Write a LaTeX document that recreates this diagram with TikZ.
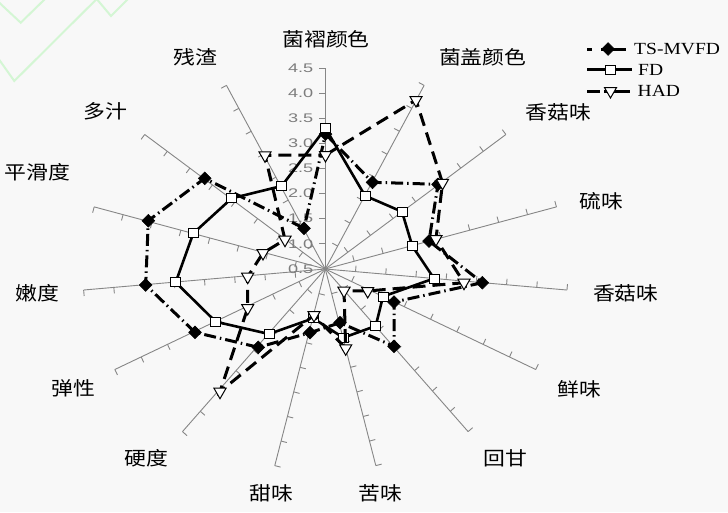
\documentclass[tikz,border=0pt]{standalone}
\usepackage{graphicx}
\usepackage{fontspec}
\setmainfont{Liberation Serif}
\newfontfamily\cjkfont{Noto Sans CJK SC}
\newfontfamily\numfont{Liberation Sans}
\usetikzlibrary{shapes.geometric}
\definecolor{bgc}{RGB}{248,248,248}
\definecolor{axisgray}{RGB}{134,134,134}
\definecolor{numgray}{RGB}{125,125,125}
\definecolor{zig}{RGB}{212,246,212}
\newcommand{\cjklab}[1]{\scalebox{1.15}[1]{\cjkfont\fontsize{19}{19}\selectfont #1}}
\newcommand{\numlab}[1]{\scalebox{1.45}[1]{\numfont\fontsize{12.5}{12.5}\selectfont #1}}
\newcommand{\leglab}[1]{\scalebox{1.15}[1]{\fontsize{17}{17}\selectfont #1}}
\tikzset{
  axisline/.style={draw=axisgray, line width=0.9pt},
  lab/.style={inner sep=0pt},
  numnode/.style={inner sep=0pt, anchor=east, text=numgray},
  tsline/.style={black, line width=3pt, dash pattern=on 12pt off 4pt on 1.5pt off 4pt},
  fdline/.style={black, line width=2.6pt},
  hadline/.style={black, line width=3pt, dash pattern=on 13pt off 7pt},
  tsmark/.style={diamond, fill=black, draw=black, line width=0.5pt, minimum width=13pt, minimum height=13pt, inner sep=0pt},
  fdmark/.style={rectangle, fill=white, draw=black, line width=1pt, minimum width=10pt, minimum height=9pt, inner sep=0pt},
  hadmark/.style={regular polygon, regular polygon sides=3, shape border rotate=180, fill=white, draw=black, line width=1pt, minimum size=14pt, inner sep=0pt},
  legtext/.style={inner sep=0pt, anchor=west}
}
\begin{document}
\begin{tikzpicture}[x=1pt,y=-1pt]
\useasboundingbox (0,0) rectangle (728,512);
\clip (0,0) rectangle (728,512);
\fill[bgc] (0,0) rectangle (728,512);
% decorative zigzag
\draw[zig, line width=2pt] (-2,1.5) -- (20.7,22.7) -- (45,-1);
\draw[zig, line width=2pt] (-2,58) -- (14.3,81) -- (96.7,-1);
\draw[zig, line width=2pt] (96.7,-1) -- (111,16) -- (128,-1);
% axes
\coordinate (ctr) at (325.3,269);
\foreach \k in {0,...,14}{
  \pgfmathsetmacro\ex{243*sin(24*\k)}
  \pgfmathsetmacro\ey{-201*cos(24*\k)}
  \pgfmathsetmacro\axlen{100*sqrt((\ex/100)^2+(\ey/100)^2)}
  \pgfmathsetmacro\tx{6*\ey/\axlen}
  \pgfmathsetmacro\ty{-6*\ex/\axlen}
  \draw[axisline] (ctr) -- ++(\ex,\ey) coordinate (e\k);
  \foreach \j in {1,...,8}{
    \draw[axisline] (325.3+\j*\ex/8, 269+\j*\ey/8) -- ++(\tx,\ty);
  }
}
% value labels
\foreach \j/\v in {0/0.5,1/1.0,2/1.5,3/2.0,4/2.5,5/3.0,6/3.5,7/4.0,8/4.5}{
  \node[numnode] (n\j) at (313.5, 269-\j*201/8) {\numlab{\v}};
}
% axis labels
\node[lab] (L1) at (326,39) {\cjklab{菌褶颜色}};
\node[lab] (L2) at (482.7,57.5) {\cjklab{菌盖颜色}};
\node[lab] (L3) at (558.3,112) {\cjklab{香菇味}};
\node[lab] (L4) at (601.7,201) {\cjklab{硫味}};
\node[lab] (L5) at (625.8,293.5) {\cjklab{香菇味}};
\node[lab] (L6) at (579.5,389) {\cjklab{鲜味}};
\node[lab] (L7) at (505,458) {\cjklab{回甘}};
\node[lab] (L8) at (380,493) {\cjklab{苦味}};
\node[lab] (L9) at (271,493) {\cjklab{甜味}};
\node[lab] (L10) at (146,458) {\cjklab{硬度}};
\node[lab] (L11) at (73,388) {\cjklab{弹性}};
\node[lab] (L12) at (37.5,293) {\cjklab{嫩度}};
\node[lab] (L13) at (37.5,172) {\cjklab{平滑度}};
\node[lab] (L14) at (105,111) {\cjklab{多汁}};
\node[lab] (L15) at (195,57.5) {\cjklab{残渣}};
% TS-MVFD
\coordinate (t1) at (325.5,134);
\coordinate (t2) at (372.5,182.3);
\coordinate (t3) at (438,184.3);
\coordinate (t4) at (429,241);
\coordinate (t5) at (482.3,282.7);
\coordinate (t6) at (394,302);
\coordinate (t7) at (394,346.3);
\coordinate (t8) at (340,322.7);
\coordinate (t9) at (310,332.7);
\coordinate (t10) at (258.3,347.3);
\coordinate (t11) at (195,332.3);
\coordinate (t12) at (145.7,285);
\coordinate (t13) at (148.3,220.7);
\coordinate (t14) at (204.7,178.3);
\coordinate (t15) at (304,228.3);
% FD
\coordinate (f1) at (325.5,128.3);
\coordinate (f2) at (365,195.7);
\coordinate (f3) at (402,211.7);
\coordinate (f4) at (412.3,246);
\coordinate (f5) at (434,278.5);
\coordinate (f6) at (383,296.5);
\coordinate (f7) at (375.7,326);
\coordinate (f8) at (343.3,337.7);
\coordinate (f9) at (313.3,318.3);
\coordinate (f10) at (269,334);
\coordinate (f11) at (215.7,321.7);
\coordinate (f12) at (175.7,282.3);
\coordinate (f13) at (193.3,233.3);
\coordinate (f14) at (231.7,198.3);
\coordinate (f15) at (281.7,186);
% HAD
\coordinate (h1) at (325.5,155);
\coordinate (h2) at (416,100);
\coordinate (h3) at (442.5,182.8);
\coordinate (h4) at (436,239);
\coordinate (h5) at (464,282.7);
\coordinate (h6) at (367.7,291);
\coordinate (h7) at (344,290.7);
\coordinate (h8) at (345.7,348.3);
\coordinate (h9) at (314,315);
\coordinate (h10) at (220,391.7);
\coordinate (h11) at (247.7,308);
\coordinate (h12) at (247.7,276.7);
\coordinate (h13) at (263,253);
\coordinate (h14) at (285,239.7);
\coordinate (h15) at (265,155.3);
% series TS-MVFD
\draw[tsline] (t1) -- (t2) -- (t3) -- (t4) -- (t5) -- (t6) -- (t7) -- (t8) -- (t9) -- (t10) -- (t11) -- (t12) -- (t13) -- (t14) -- (t15) -- cycle;
\foreach \i in {1,...,15}{ \node[tsmark] (tm\i) at (t\i) {}; }
% series FD
\draw[fdline, line join=round] (f1) -- (f2) -- (f3) -- (f4) -- (f5) -- (f6) -- (f7) -- (f8) -- (f9) -- (f10) -- (f11) -- (f12) -- (f13) -- (f14) -- (f15) -- cycle;
\foreach \i in {1,...,15}{ \node[fdmark] (fm\i) at (f\i) {}; }
% series HAD
\draw[hadline] (h1) -- (h2) -- (h3) -- (h4) -- (h5) -- (h6) -- (h7) -- (h8) -- (h9) -- (h10) -- (h11) -- (h12) -- (h13) -- (h14) -- (h15) -- cycle;
\foreach \i in {1,...,15}{ \node[hadmark] (hm\i) at (h\i) {}; }
% legend
\coordinate (la1) at (587,49);  \coordinate (lb1) at (626,49);
\coordinate (la2) at (587,69.5); \coordinate (lb2) at (632,69.5);
\coordinate (la3) at (587,91);  \coordinate (lb3) at (630,91);
\draw[tsline, dash pattern=on 5pt off 9pt on 30pt] (la1) -- (lb1);
\node[tsmark] (lm1) at (608,49) {};
\draw[fdline] (la2) -- (lb2);
\node[fdmark] (lm2) at (610,69.5) {};
\draw[hadline, dash pattern=on 13pt off 4pt on 30pt] (la3) -- (lb3);
\node[hadmark] (lm3) at (610.5,91) {};
\node[legtext] (lt1) at (634,49) {\leglab{TS-MVFD}};
\node[legtext] (lt2) at (638,69.5) {\leglab{FD}};
\node[legtext] (lt3) at (637.5,91) {\leglab{HAD}};
\end{tikzpicture}
\end{document}
